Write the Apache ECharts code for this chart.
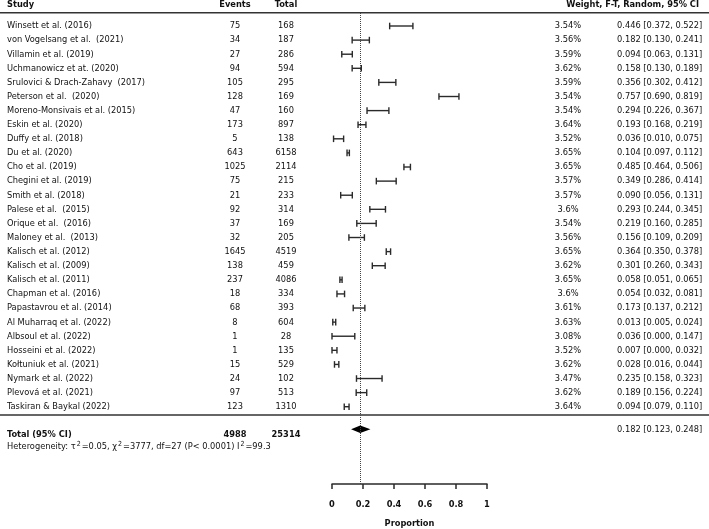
<!DOCTYPE html>
<html>
<head>
<meta charset="utf-8">
<script src="https://cdn.jsdelivr.net/npm/echarts@6/dist/echarts.min.js"></script>
<style>
    html, body { margin: 0; padding: 0; background: #fff; }
    #chart { width: 709px; height: 529px; }
</style>
</head>
<body>
<div id="chart"></div>
<script>
// 研究列表
const studies = [
    'Winsett et al. (2016)', 'von Vogelsang et al.  (2021)', 'Villamin et al. (2019)',
    'Uchmanowicz et at. (2020)', 'Srulovici & Drach-Zahavy  (2017)', 'Peterson et al.  (2020)',
    'Moreno-Monsivais et al. (2015)', 'Eskin et al. (2020)', 'Duffy et al. (2018)',
    'Du et al. (2020)', 'Cho et al. (2019)', 'Chegini et al. (2019)', 'Smith et al. (2018)',
    'Palese et al.  (2015)', 'Orique et al.  (2016)', 'Maloney et al.  (2013)',
    'Kalisch et al. (2012)', 'Kalisch et al. (2009)', 'Kalisch et al. (2011)',
    'Chapman et al. (2016)', 'Papastavrou et al. (2014)', 'Al Muharraq et al. (2022)',
    'Albsoul et al. (2022)', 'Hosseini et al. (2022)', 'Kołtuniuk et al. (2021)',
    'Nymark et al. (2022)', 'Plevová et al. (2021)', 'Taskiran & Baykal (2022)'
];
const events = [75, 34, 27, 94, 105, 128, 47, 173, 5, 643, 1025, 75, 21, 92, 37, 32, 1645, 138, 237, 18, 68, 8, 1, 1, 15, 24, 97, 123];
const totals = [168, 187, 286, 594, 295, 169, 160, 897, 138, 6158, 2114, 215, 233, 314, 169, 205, 4519, 459, 4086, 334, 393, 604, 28, 135, 529, 102, 513, 1310];
const weights = [3.54, 3.56, 3.59, 3.62, 3.59, 3.54, 3.54, 3.64, 3.52, 3.65, 3.65, 3.57, 3.57, 3.6, 3.54, 3.56, 3.65, 3.62, 3.65, 3.6, 3.61, 3.63, 3.08, 3.52, 3.62, 3.47, 3.62, 3.64];
const props = [0.446, 0.182, 0.094, 0.158, 0.356, 0.757, 0.294, 0.193, 0.036, 0.104, 0.485, 0.349, 0.090, 0.293, 0.219, 0.156, 0.364, 0.301, 0.058, 0.054, 0.173, 0.013, 0.036, 0.007, 0.028, 0.235, 0.189, 0.094];
const lower = [0.372, 0.130, 0.063, 0.130, 0.302, 0.690, 0.226, 0.168, 0.010, 0.097, 0.464, 0.286, 0.056, 0.244, 0.160, 0.109, 0.350, 0.260, 0.051, 0.032, 0.137, 0.005, 0.000, 0.000, 0.016, 0.158, 0.156, 0.079];
const upper = [0.522, 0.241, 0.131, 0.189, 0.412, 0.819, 0.367, 0.219, 0.075, 0.112, 0.506, 0.414, 0.131, 0.345, 0.285, 0.209, 0.378, 0.343, 0.065, 0.081, 0.212, 0.024, 0.147, 0.032, 0.044, 0.323, 0.224, 0.110];
// 合并结果
const pooled = [0.182, 0.123, 0.248];
const totalEvents = 4988;
const totalN = 25314;
const heterogeneity = 'Heterogeneity: τ{s|2}=0.05, χ{s|2}=3777, df=27 (P< 0.0001) I{s|2}=99.3';

const FONT = '"DejaVu Sans Condensed", "DejaVu Sans", sans-serif';
const FS = 9.2;
const INK = '#111';
const LINE = '#2a2a2a';

// 行位置（y轴刻度单位）
const ROW_DIAMOND = 28.6;
const ROW_TOTAL = 29.0;
const ROW_HET = 29.86;

const fmt = v => v.toFixed(3);
const ciText = (p, l, u) => fmt(p) + ' [' + fmt(l) + ', ' + fmt(u) + ']';

const txt = (x, y, s, align, bold) => ({
    type: 'text',
    style: {
        x: x, y: y, text: s, align: align, verticalAlign: 'middle',
        fontFamily: FONT, fontSize: FS, fontWeight: bold ? 'bold' : 'normal', fill: INK
    }
});

const renderRow = (params, api) => {
    const i = params.dataIndex;
    const row = api.value(3);
    const pLo = api.coord([api.value(1), row]);
    const pHi = api.coord([api.value(2), row]);
    const y = pLo[1];
    const h = 3.3;
    const ls = { stroke: LINE, lineWidth: 1.4 };
    return {
        type: 'group',
        children: [
            txt(7, y, studies[i], 'left'),
            txt(235, y, String(events[i]), 'center'),
            txt(286, y, String(totals[i]), 'center'),
            txt(568, y, weights[i] + '%', 'center'),
            txt(617, y, ciText(props[i], lower[i], upper[i]), 'left'),
            { type: 'line', shape: { x1: pLo[0], y1: y, x2: pHi[0], y2: y }, style: ls },
            { type: 'line', shape: { x1: pLo[0], y1: y - h, x2: pLo[0], y2: y + h }, style: ls },
            { type: 'line', shape: { x1: pHi[0], y1: y - h, x2: pHi[0], y2: y + h }, style: ls }
        ]
    };
};

const renderTotal = (params, api) => {
    const row = api.value(3);
    const pm = api.coord([api.value(0), row]);
    const pl = api.coord([api.value(1), row]);
    const ph = api.coord([api.value(2), row]);
    const h = 3.8;
    const yT = api.coord([0, ROW_TOTAL])[1];
    const yH = api.coord([0, ROW_HET])[1];
    return {
        type: 'group',
        children: [
            {
                type: 'polygon',
                shape: { points: [[pl[0], pm[1]], [pm[0], pm[1] - h], [ph[0], pm[1]], [pm[0], pm[1] + h]] },
                style: { fill: '#000' }
            },
            txt(617, pm[1], ciText(api.value(0), api.value(1), api.value(2)), 'left'),
            txt(7, yT, 'Total (95% CI)', 'left', true),
            txt(235, yT, String(totalEvents), 'center', true),
            txt(286, yT, String(totalN), 'center', true),
            {
                type: 'text',
                style: {
                    x: 7, y: yH, text: heterogeneity, align: 'left', verticalAlign: 'middle',
                    fontFamily: FONT, fontSize: FS, fill: INK,
                    rich: { s: { fontFamily: FONT, fontSize: 7, fill: INK, verticalAlign: 'top', padding: [0, 1, 5, 1] } }
                }
            }
        ]
    };
};

const chart = echarts.init(document.getElementById('chart'), null, { renderer: 'canvas' });

chart.setOption({
    animation: false,
    backgroundColor: '#fff',
    grid: { left: 332, width: 155, top: 13, bottom: 45, outerBoundsMode: 'none' },
    xAxis: {
        type: 'value', min: 0, max: 1, interval: 0.2, position: 'bottom',
        splitLine: { show: false },
        axisLine: { onZero: false, lineStyle: { color: LINE, width: 1.5 } },
        axisTick: { length: 5, lineStyle: { color: LINE, width: 1.5 } },
        axisLabel: { margin: 16.5, color: INK, fontFamily: FONT, fontSize: FS, fontWeight: 'bold' },
        name: 'Proportion', nameLocation: 'middle', nameGap: 35,
        nameTextStyle: { color: INK, fontFamily: FONT, fontSize: FS, fontWeight: 'bold' }
    },
    yAxis: { type: 'value', inverse: true, min: -0.922, max: 32.48, show: false },
    graphic: [
        { type: 'line', shape: { x1: 0, y1: 12.7, x2: 709, y2: 12.7 }, style: { stroke: '#333', lineWidth: 1.6 } },
        { type: 'line', shape: { x1: 0, y1: 415, x2: 709, y2: 415 }, style: { stroke: '#333', lineWidth: 1.6 } },
        { type: 'text', style: { x: 7, y: 4.5, text: 'Study', align: 'left', verticalAlign: 'middle', fontFamily: FONT, fontSize: FS, fontWeight: 'bold', fill: INK } },
        { type: 'text', style: { x: 235, y: 4.5, text: 'Events', align: 'center', verticalAlign: 'middle', fontFamily: FONT, fontSize: FS, fontWeight: 'bold', fill: INK } },
        { type: 'text', style: { x: 286, y: 4.5, text: 'Total', align: 'center', verticalAlign: 'middle', fontFamily: FONT, fontSize: FS, fontWeight: 'bold', fill: INK } },
        { type: 'text', style: { x: 699, y: 4.5, text: 'Weight, F-T, Random, 95% CI', align: 'right', verticalAlign: 'middle', fontFamily: FONT, fontSize: FS, fontWeight: 'bold', fill: INK } }
    ],
    series: [
        {
            type: 'custom',
            name: 'studies',
            clip: false,
            renderItem: renderRow,
            encode: { x: [0, 1, 2], y: 3 },
            data: studies.map((s, i) => [props[i], lower[i], upper[i], i]),
            markLine: {
                silent: true,
                symbol: 'none',
                label: { show: false },
                lineStyle: { type: 'dotted', color: '#444', width: 1 },
                data: [{ xAxis: pooled[0] }]
            }
        },
        {
            type: 'custom',
            name: 'total',
            clip: false,
            renderItem: renderTotal,
            encode: { x: [0, 1, 2], y: 3 },
            data: [[pooled[0], pooled[1], pooled[2], ROW_DIAMOND]]
        }
    ]
});
</script>
</body>
</html>
